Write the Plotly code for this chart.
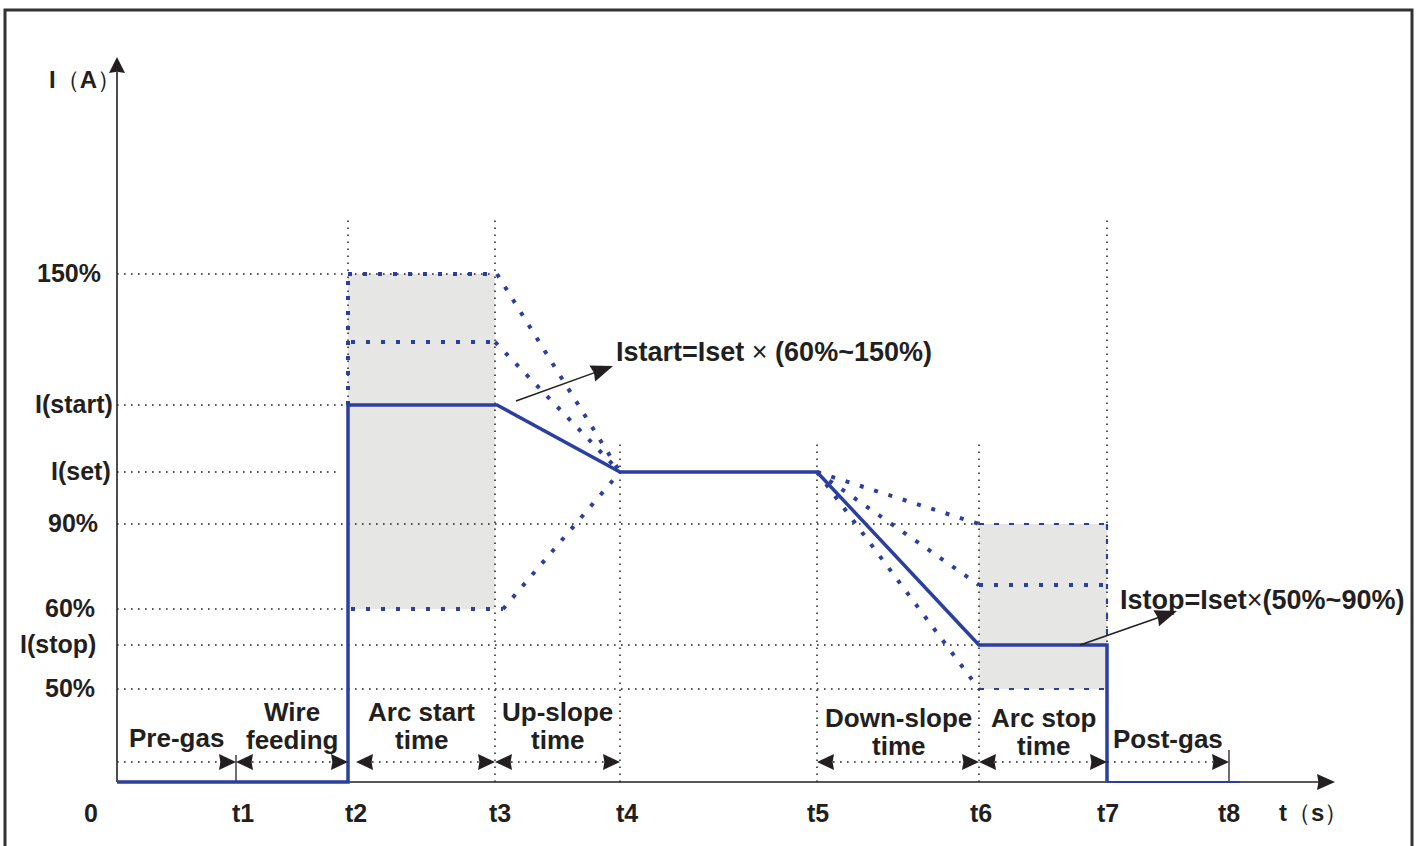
import plotly.graph_objects as go
import numpy as np

# time marks on the t axis (1 unit = 10 px of the drawing)
t_labels = ["0", "t1", "t2", "t3", "t4", "t5", "t6", "t7", "t8"]
t_pos = [0, 11.9, 23.1, 37.8, 50.3, 70.0, 86.2, 99.0, 111.2]

# current levels on the I axis
level_labels = ["150%", "I(start)", "I(set)", "90%", "60%", "I(stop)", "50%"]
level_values = [50.8, 37.7, 31.0, 25.8, 17.3, 13.7, 9.3]
start_mid = 44.0   # unlabeled dotted level inside the arc start box
stop_mid = 19.7    # unlabeled dotted level inside the arc stop box

# solid welding current profile
profile_t = [0, 23.1, 23.1, 38.0, 50.3, 70.0, 84.6, 86.2, 99.0, 99.0]
profile_i = [0, 0, 37.7, 37.7, 31.0, 31.0, 15.4, 13.7, 13.7, 0]
post_t = [99.0, 112.3]
post_i = [0, 0]

# captions of the intervals between consecutive t marks
captions = ["Pre-gas", "Wire\nfeeding", "Arc start\ntime", "Up-slope\ntime", "",
            "Down-slope\ntime", "Arc stop\ntime", "Post-gas"]

istart_text = "<b>Istart=Iset</b> × <b>(60%~150%)</b>"
istop_text = "<b>Istop=Iset</b>×<b>(50%~90%)</b>"
y_title = "<b>I</b>（<b>A</b>）"
x_title = "<b>t</b>（<b>s</b>）"

BLUE = "#2b3f9e"
INK = "#231f20"
SHADE = "#e6e7e5"
FONT = "Liberation Sans, Arial, sans-serif"
BLACK_DOT = "1.6px,5.4px"
BLUE_DOT = "4px,11px"

t1, t2, t3, t4, t5, t6, t7, t8 = t_pos[1:]
L150, Lstart, Lset, L90, L60, Lstop, L50 = level_values

fig = go.Figure()


def segs(pairs):
    xs, ys = [], []
    for (xa, ya), (xb, yb) in pairs:
        xs += [xa, xb, None]
        ys += [ya, yb, None]
    return xs, ys


def line(xs, ys, color, width, dash="solid"):
    fig.add_trace(go.Scatter(x=xs, y=ys, mode="lines", hoverinfo="skip",
                             line=dict(color=color, width=width, dash=dash)))


def head(tip, direction, length=1.7, half=0.8):
    d = np.array(direction, float)
    d = d / np.linalg.norm(d)
    n = np.array([-d[1], d[0]])
    tip = np.array(tip, float)
    base = tip - d * length
    a = base + n * half
    b = base - n * half
    notch = tip - d * length * 0.92
    return [tip[0], a[0], notch[0], b[0], tip[0], None], [tip[1], a[1], notch[1], b[1], tip[1], None]


# shaded boxes
fig.add_shape(type="rect", x0=t2, x1=t3, y0=L60, y1=L150, fillcolor=SHADE,
              line_width=0, layer="below")
fig.add_shape(type="rect", x0=t6, x1=t7, y0=L50, y1=L90, fillcolor=SHADE,
              line_width=0, layer="below")

# black dotted guides
grid_ends = [t3, t2, t2 - 0.7, t6, t2, t6, t6]
xs, ys = segs([((0, v), (e, v)) for v, e in zip(level_values, grid_ends)])
tops = {t2: L150 + 5.4, t3: L150 + 5.6, t4: Lset + 2.9, t5: Lset + 3.2,
        t6: Lset + 3.2, t7: L150 + 5.9}
vx, vy = segs([((t, 0), (t, top)) for t, top in tops.items()])
line(xs + vx, ys + vy, INK, 1.5, BLACK_DOT)

# solid ticks at t1 and t8
tx, ty = segs([((t1, 0), (t1, 2.7)), ((t8, 0), (t8, 3.2))])
line(tx, ty, INK, 1.3)

# blue dotted alternatives
bx, by = segs([
    ((t2, Lstart), (t2, L150)),
    ((t2, L150), (t3 + 0.2, L150)), ((t3 + 0.2, L150), (t4, Lset)),
    ((t2 + 0.3, start_mid), (t3, start_mid)), ((t3, start_mid), (t4, Lset)),
    ((t2 + 0.3, L60), (t3 + 0.8, L60)), ((t3 + 0.8, L60), (t4, Lset)),
    ((t5, Lset), (t6, L90)),
    ((t5, Lset), (t6, stop_mid)), ((t6, stop_mid), (t7, stop_mid)),
    ((t5, Lset), (t6, L50)),
])
line(bx, by, BLUE, 4, BLUE_DOT)
ex, ey = segs([((t6, L90), (t7, L90)), ((t6, L50), (t7, L50)), ((t7, L90), (t7, Lstop))])
line(ex, ey, BLUE, 2.2, "5px,10px")

# axes
line([0, 0], [0, 71.0], INK, 1.6)
line([0, 120.2], [0, 0], INK, 1.6)

# solid current profile
line(profile_t, profile_i, BLUE, 3.5)
line(post_t, post_i, BLUE, 2.2)

# interval arrows
y_arr = 2.0
ax_, ay_ = [], []
hx, hy = [], []
for i, cap in enumerate(captions):
    if not cap:
        continue
    a, b = t_pos[i], t_pos[i + 1]
    left_head = cap not in ("Pre-gas", "Post-gas")
    xa = a + (0.8 if left_head and i == 2 else 0.0)
    ax_ += [xa + (1.6 if left_head else 0), b - 1.6, None]
    ay_ += [y_arr, y_arr, None]
    px, py = head((b, y_arr), (1, 0))
    hx += px
    hy += py
    if left_head:
        px, py = head((xa, y_arr), (-1, 0))
        hx += px
        hy += py
line(ax_, ay_, INK, 1.5, BLACK_DOT)

# pointer arrows to the formulas
for tail, tip in [((39.9, 38.1), (49.6, 41.6)), ((96.3, 13.7), (106.0, 17.1))]:
    d = np.subtract(tip, tail)
    d = d / np.linalg.norm(d)
    end = np.array(tip) - d * 1.8
    line([tail[0], end[0]], [tail[1], end[1]], INK, 1.5)
    px, py = head(tip, d, 2.2, 0.85)
    hx += px
    hy += py

# axis arrowheads
px, py = head((0, 72.5), (0, 1), 1.6, 0.8)
hx += px
hy += py
px, py = head((121.8, 0), (1, 0), 1.8, 0.8)
hx += px
hy += py
fig.add_trace(go.Scatter(x=hx, y=hy, mode="lines", fill="toself", fillcolor=INK,
                         line=dict(width=0, color=INK), hoverinfo="skip"))

ann = []


def text(x, y, s, anchor="center", size=26):
    ann.append(dict(x=x, y=y, text=s, showarrow=False, xanchor=anchor, yanchor="middle",
                    font=dict(family=FONT, size=size, color=INK)))


# level labels (right edges as in the drawing)
label_right = [-1.4, -0.2, -0.4, -1.7, -2.0, -1.9, -2.0]
for lab, v, r in zip(level_labels, level_values, label_right):
    text(r, v + 0.1, f"<b>{lab}</b>", "right", 25)

# t labels
t_shift = [-2.6, 0.7, 0.8, 0.5, 0.7, 0.1, 0.2, 0.1, 0.0]
for lab, t, s in zip(t_labels, t_pos, t_shift):
    text(t + s, -3.1, f"<b>{lab}</b>", size=25)
text(119.6, -3.0, x_title, size=24)
text(-3.2, 70.3, y_title, size=24)

# interval captions
for i, cap in enumerate(captions):
    if not cap:
        continue
    mid = (t_pos[i] + t_pos[i + 1]) / 2
    lines = cap.split("\n")
    drop = 0.6 if i in (5, 6) else 0.0
    if len(lines) == 1:
        text(mid, 4.4 - (0.1 if i == 7 else 0), f"<b>{lines[0]}</b>")
    else:
        text(mid, 7.0 - drop, f"<b>{lines[0]}</b>")
        text(mid, 4.2 - drop, f"<b>{lines[1]}</b>")

text(49.7, 43.0, istart_text, "left", 27)
text(100.1, 18.2, istop_text, "left", 27)

# outer frame
fig.add_shape(type="rect", xref="paper", yref="paper", x0=5 / 1417, x1=1412 / 1417,
              y0=-0.05, y1=1 - 10 / 846, line=dict(color="#333333", width=3))

fig.update_layout(
    width=1417, height=846,
    margin=dict(l=0, r=0, t=0, b=0),
    paper_bgcolor="white", plot_bgcolor="white",
    showlegend=False, hovermode=False,
    xaxis=dict(range=[-11.7, 130.0], visible=False, fixedrange=True),
    yaxis=dict(range=[-6.4, 78.2], visible=False, fixedrange=True),
    annotations=ann,
)

fig.write_html("out.html", config={"displayModeBar": False},
               post_script="document.body.style.margin='0';")
